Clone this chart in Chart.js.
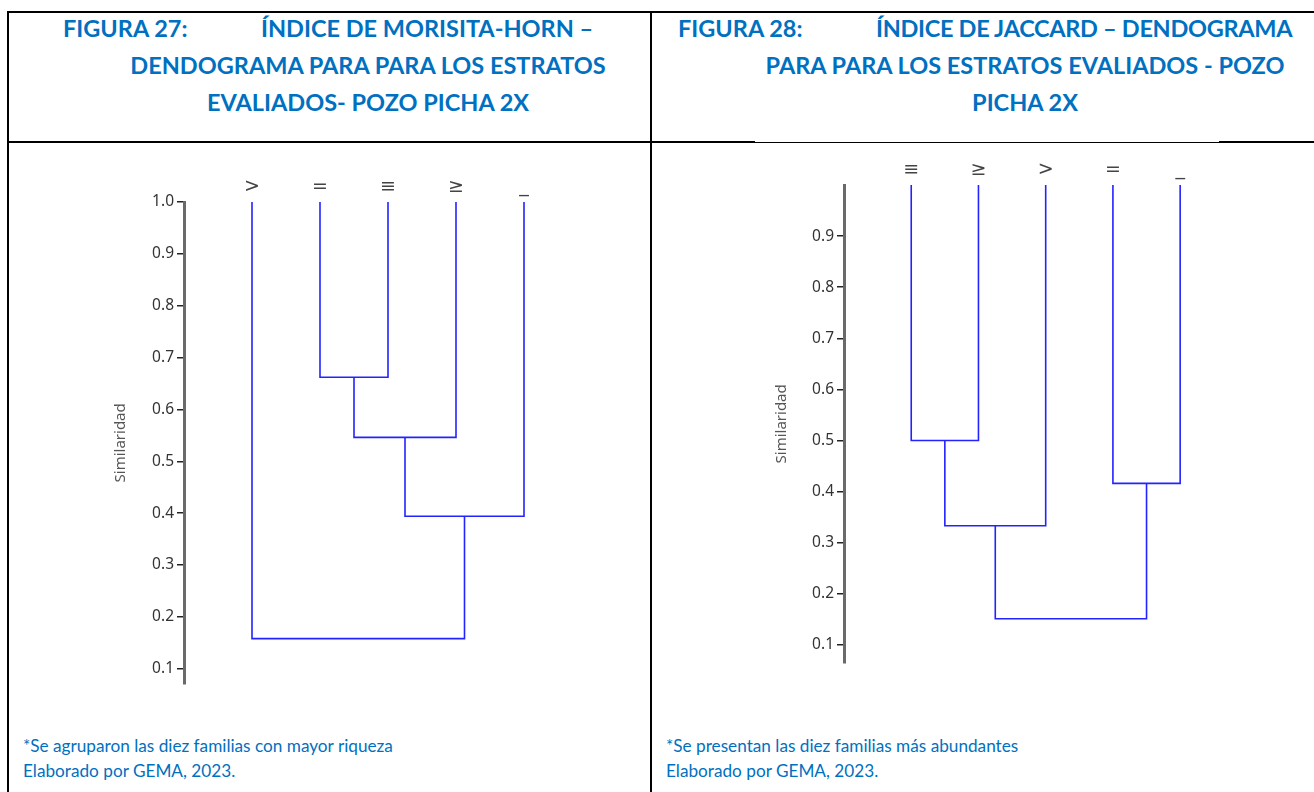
<!DOCTYPE html>
<html>
<head>
<meta charset="utf-8">
<script src="https://cdn.jsdelivr.net/npm/chart.js@4.4.0/dist/chart.umd.min.js"></script>
<style>
  body { margin: 0; background: #fff; width: 1314px; height: 792px; overflow: hidden; position: relative; }
  .ln { position: absolute; background: #000; }
  .hd { position: absolute; font-family: Lato, sans-serif; font-weight: bold; font-size: 23.5px; color: #0070c0; line-height: 37px; white-space: nowrap; }
  .ft { position: absolute; font-family: Lato, sans-serif; font-size: 17.2px; color: #0070c0; line-height: 25px; white-space: nowrap; }
  canvas { position: absolute; }
</style>
</head>
<body>
<!-- bordes de la tabla -->
<div class="ln" style="left:7px;top:11px;width:1307px;height:2px"></div>
<div class="ln" style="left:7px;top:11px;width:2px;height:781px"></div>
<div class="ln" style="left:650px;top:11px;width:2px;height:781px"></div>
<div class="ln" style="left:7px;top:141px;width:748px;height:2px"></div>
<div class="ln" style="left:755px;top:142px;width:464px;height:1px"></div>
<div class="ln" style="left:1219px;top:141px;width:95px;height:2px"></div>

<!-- títulos -->
<div class="hd" style="left:63px;top:10px">FIGURA 27:</div>
<div class="hd" style="left:261px;top:10px">ÍNDICE DE MORISITA-HORN –</div>
<div class="hd" style="left:86px;top:47px;width:564px;text-align:center">DENDOGRAMA PARA PARA LOS ESTRATOS</div>
<div class="hd" style="left:86px;top:84px;width:564px;text-align:center">EVALIADOS- POZO PICHA 2X</div>

<div class="hd" style="left:678px;top:10px">FIGURA 28:</div>
<div class="hd" style="left:876px;top:10px;letter-spacing:-0.3px">ÍNDICE DE JACCARD – DENDOGRAMA</div>
<div class="hd" style="left:740px;top:47px;width:570px;text-align:center">PARA PARA LOS ESTRATOS EVALIADOS - POZO</div>
<div class="hd" style="left:740px;top:84px;width:570px;text-align:center">PICHA 2X</div>

<canvas id="dendro1" style="left:100px;top:150px" width="540" height="546"></canvas>
<canvas id="dendro2" style="left:760px;top:143px" width="540" height="532"></canvas>

<div class="ft" style="left:23px;top:733px">*Se agruparon las diez familias con mayor riqueza<br>Elaborado por GEMA, 2023.</div>
<div class="ft" style="left:666px;top:733px">*Se presentan las diez familias más abundantes<br>Elaborado por GEMA, 2023.</div>

<script>
// hojas del dendrograma (orden de izquierda a derecha)
const leaves1 = ['>', '=', '≡', '≥', '_'];
const leaves2 = ['≡', '≥', '>', '=', '_'];

// uniones: [nodo A, nodo B, similaridad]; nodos 0-4 son hojas, 5+ son grupos
const merges1 = [[1, 2, 0.662], [5, 3, 0.546], [6, 4, 0.394], [0, 7, 0.158]];
const merges2 = [[0, 1, 0.500], [5, 2, 0.333], [3, 4, 0.416], [6, 7, 0.151]];

const leafTop = 1.0;
const yTicks = [0.1, 0.2, 0.3, 0.4, 0.5, 0.6, 0.7, 0.8, 0.9, 1.0];

const lineColor = 'rgb(35,35,255)';

function buildSegments(leaves, merges) {
    var nodes = leaves.map((l, i) => ({ x: i + 1, h: leafTop }));
    var sets = [];
    merges.forEach(m => {
        const a = nodes[m[0]], b = nodes[m[1]], h = m[2];
        sets.push({
            data: [{ x: a.x, y: a.h }, { x: a.x, y: h }, { x: b.x, y: h }, { x: b.x, y: b.h }],
            borderColor: lineColor,
            borderWidth: 1.6,
            pointRadius: 0,
            tension: 0,
            fill: false,
            clip: false
        });
        nodes.push({ x: (a.x + b.x) / 2, h: h });
    });
    return sets;
}

function makeChart(id, leaves, merges, opts) {
    var ctx = document.getElementById(id).getContext('2d');
    return new Chart(ctx, {
        type: 'line',
        data: { datasets: buildSegments(leaves, merges) },
        options: {
            responsive: false,
            animation: false,
            layout: { padding: { left: 0, right: opts.padRight, top: 0, bottom: 0 } },
            plugins: { legend: { display: false }, tooltip: { enabled: false } },
            scales: {
                x: {
                    type: 'linear',
                    position: 'top',
                    min: 0,
                    max: 6.5,
                    afterBuildTicks: (s) => { s.ticks = leaves.map((l, i) => ({ value: i + 1 })); },
                    afterFit: (s) => { s.height = opts.topH; },
                    ticks: {
                        autoSkip: false,
                        maxRotation: 0,
                        padding: 4,
                        color: '#444',
                        font: { family: 'DejaVu Sans', size: 19 },
                        callback: (v) => leaves[v - 1]
                    },
                    grid: { display: false, drawTicks: false },
                    border: { display: false }
                },
                y: {
                    min: opts.yMin,
                    max: 1.0,
                    afterBuildTicks: (s) => { s.ticks = yTicks.filter(v => v <= opts.yTop).map(v => ({ value: v })); },
                    afterFit: (s) => { s.width = 84; },
                    ticks: {
                        padding: 3,
                        color: '#333',
                        font: { family: 'Noto Sans', size: 15.5 },
                        callback: (v) => v.toFixed(1)
                    },
                    grid: { display: true, drawOnChartArea: false, drawTicks: true, tickLength: 7, color: '#222', lineWidth: 1.5 },
                    border: { display: true, color: '#6a6a6a', width: 3 },
                    title: {
                        display: true,
                        text: 'Similaridad',
                        color: '#555',
                        font: { family: 'Noto Sans', size: 15 },
                        padding: { top: opts.titlePad, bottom: 0 }
                    }
                }
            }
        }
    });
}

makeChart('dendro1', leaves1, merges1, { padRight: 14, topH: 52, yMin: 0.071, yTop: 1.0, titlePad: 12 });
makeChart('dendro2', leaves2, merges2, { padRight: 19, topH: 42, yMin: 0.065, yTop: 0.95, titlePad: 13 });
</script>
</body>
</html>
